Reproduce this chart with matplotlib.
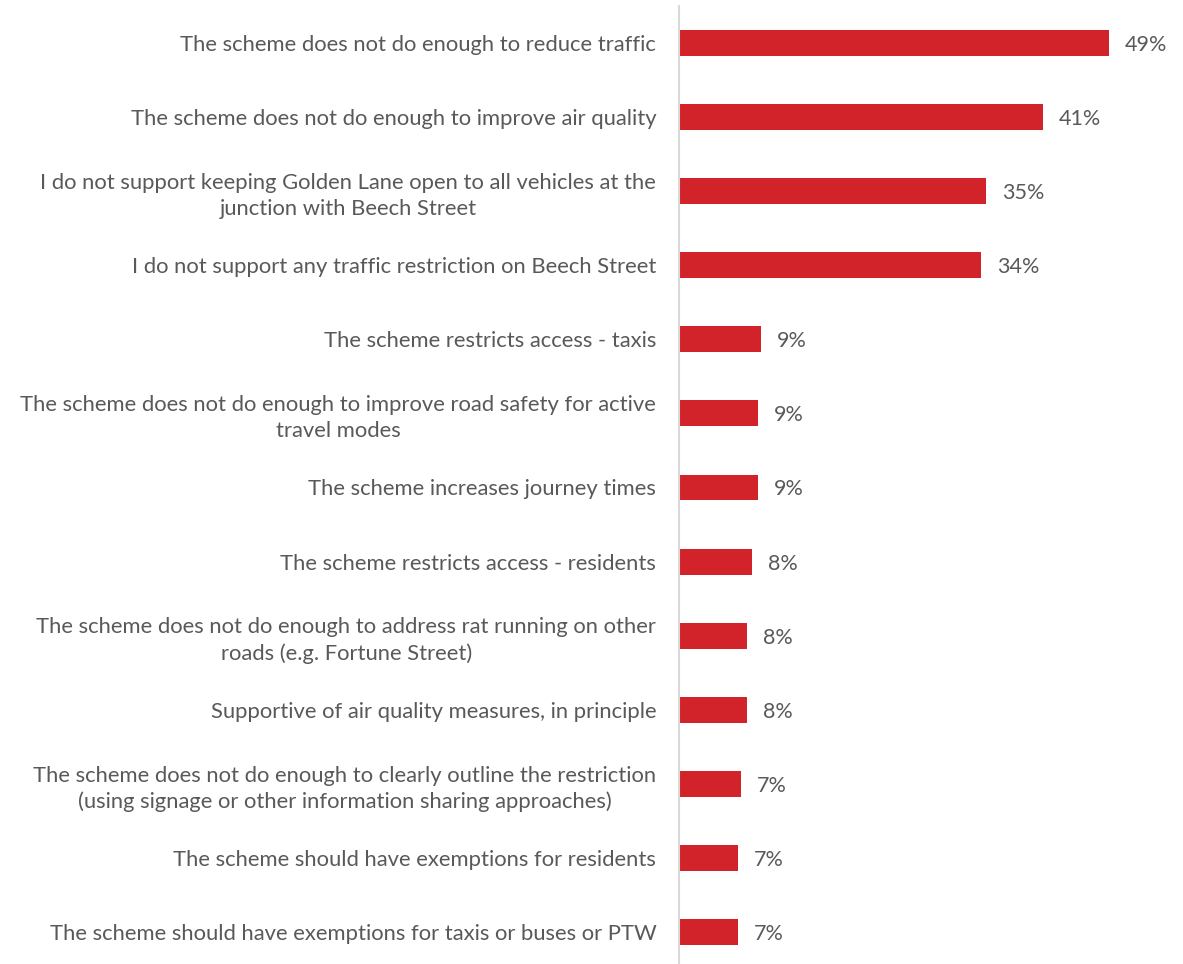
import matplotlib

matplotlib.use('Agg')
import matplotlib.pyplot as plt

# 数据
labels = [
    'The scheme does not do enough to reduce traffic',
    'The scheme does not do enough to improve air quality',
    'I do not support keeping Golden Lane open to all vehicles at the\njunction with Beech Street',
    'I do not support any traffic restriction on Beech Street',
    'The scheme restricts access - taxis',
    'The scheme does not do enough to improve road safety for active\ntravel modes',
    'The scheme increases journey times',
    'The scheme restricts access - residents',
    'The scheme does not do enough to address rat running on other\nroads (e.g. Fortune Street)',
    'Supportive of air quality measures, in principle',
    'The scheme does not do enough to clearly outline the restriction\n(using signage or other information sharing approaches)',
    'The scheme should have exemptions for residents',
    'The scheme should have exemptions for taxis or buses or PTW',
]
values = [49.0, 41.5, 35.0, 34.4, 9.3, 9.0, 9.0, 8.3, 7.7, 7.7, 7.0, 6.7, 6.7]
value_labels = ['49%', '41%', '35%', '34%', '9%', '9%', '9%', '8%', '8%', '8%', '7%', '7%', '7%']

bar_color = '#D2232A'
text_color = '#595959'
font = ['Lato', 'DejaVu Sans']

fig = plt.figure(figsize=(11.83, 9.64), dpi=100)
ax = fig.add_axes([0.5742, -0.0052, 0.4258, 0.999])

y = list(range(len(labels)))
ax.barh(y, values, height=0.35, color=bar_color)
ax.set_ylim(len(labels) - 0.5, -0.5)
ax.set_xlim(0, 57.5)

for yi, v, lab in zip(y, values, value_labels):
    ax.annotate(lab, (v, yi), xytext=(16, -2), textcoords='offset pixels',
                va='center', ha='left', fontsize=15.5, color=text_color, family=font)

ax.set_yticks(y)
ax.set_yticklabels(labels, fontsize=15.8, color=text_color, family=font,
                   multialignment='center', linespacing=1.35)
ax.tick_params(axis='y', length=0, pad=16.5)
ax.set_xticks([])

for side in ['top', 'right', 'bottom']:
    ax.spines[side].set_visible(False)
ax.spines['left'].set_color('#D9D9D9')
ax.spines['left'].set_linewidth(1.5)

fig.savefig('out.png', dpi=100)
